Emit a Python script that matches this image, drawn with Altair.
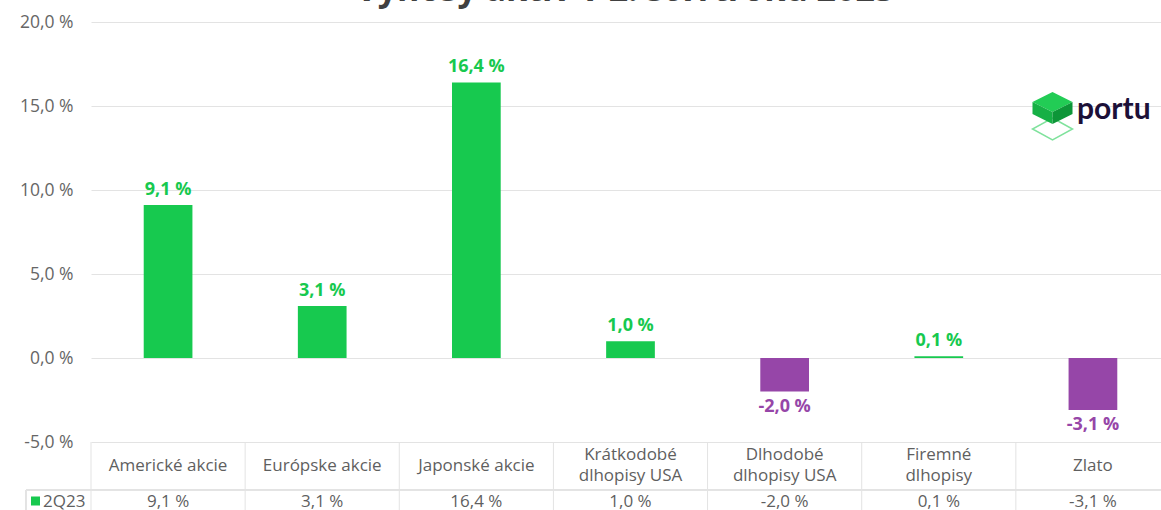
import altair as alt
import pandas as pd

# ---- data ----
categories = ["Americké akcie", "Európske akcie", "Japonské akcie",
              "Krátkodobé\ndlhopisy USA", "Dlhodobé\ndlhopisy USA",
              "Firemné\ndlhopisy", "Zlato"]
values_2q23 = [9.1, 3.1, 16.4, 1.0, -2.0, 0.1, -3.1]
series_name = "2Q23"
title_text = "Výnosy aktív v 2. štvrťroku 2023"
y_ticks = [-5, 0, 5, 10, 15, 20]

GREEN = "#17c94f"
PURPLE = "#9646a8"
GRID = "#e3e3e3"
TXT = "#5f5f5f"
FONT = "Open Sans"

df = pd.DataFrame({"cat": categories, "v": values_2q23})
df["key"] = [c.replace("\n", " ") for c in categories]

FMT = "replace(replace(format(datum.{f}, '.1f'), '.', ','), '\u2212', '-') + ' %'"

W, H = 1070, 420
xscale = alt.Scale(domain=df["key"].tolist(), range=[0, 1079], paddingInner=0, paddingOuter=0)
yscale = alt.Scale(domain=[-5, 20], nice=False, zero=False)


def XE(bp):
    return alt.X("key:N", scale=xscale, axis=None, sort=None, bandPosition=bp)


base = alt.Chart(df).transform_calculate(lab=FMT.format(f="v"))

bars = base.mark_bar(width={"band": 0.316}).encode(
    x=alt.X("key:N", scale=xscale, axis=None, sort=None),
    y=alt.Y("v:Q", scale=yscale,
            axis=alt.Axis(values=y_ticks, grid=True, gridColor=GRID, domain=False, ticks=False,
                          labelPadding=18, labelFontSize=17.5, labelColor="#666666", labelFont=FONT,
                          labelExpr=FMT.format(f="value"),
                          title=None)),
    y2=alt.datum(0),
    color=alt.condition(alt.datum.v >= 0, alt.value(GREEN), alt.value(PURPLE)),
)

pos_lab = base.transform_filter(alt.datum.v >= 0).mark_text(
    baseline="bottom", dy=-6, fontSize=18, fontWeight="bold", font=FONT, color=GREEN
).encode(x=XE(0.5), y=alt.Y("v:Q", scale=yscale), text="lab:N")

neg_lab = base.transform_filter(alt.datum.v < 0).mark_text(
    baseline="top", dy=6, fontSize=18, fontWeight="bold", font=FONT, color=PURPLE
).encode(x=XE(0.5), y=alt.Y("v:Q", scale=yscale), text="lab:N")

# ---- table below ----
vlines = base.mark_rule(color=GRID, strokeWidth=1).encode(
    x=XE(0), y=alt.value(H), y2=alt.value(500))

hline = base.mark_rule(color=GRID, strokeWidth=1).encode(
    x=alt.value(-65), x2=alt.value(1100), y=alt.value(468))

left_border = base.mark_rule(color=GRID, strokeWidth=1).encode(
    x=alt.value(-65), y=alt.value(468), y2=alt.value(500))

cat_one = base.transform_filter("indexof(datum.cat, '\\n') < 0").mark_text(
    fontSize=17, font=FONT, color=TXT, baseline="middle").encode(
    x=XE(0.5), y=alt.value(443.5), text="cat:N")

cat_two = base.transform_filter("indexof(datum.cat, '\\n') >= 0").mark_text(
    lineBreak="\n", lineHeight=21, fontSize=17, font=FONT, color=TXT,
    baseline="middle").encode(
    x=XE(0.5), y=alt.value(433), text="cat:N")

val_text = base.mark_text(fontSize=17, font=FONT, color=TXT, baseline="middle").encode(
    x=XE(0.5), y=alt.value(479.5), text="lab:N")

leg_df = pd.DataFrame({"s": [series_name]})
leg_sq = alt.Chart(leg_df).mark_square(size=81, color=GREEN, opacity=1).encode(
    x=alt.value(-55.5), y=alt.value(479))
leg_tx = alt.Chart(leg_df).mark_text(align="left", baseline="middle", fontSize=17,
                                     font=FONT, color=TXT).encode(
    x=alt.value(-48), y=alt.value(479.5), text="s:N")

# ---- title (cut off at top) ----
title_df = pd.DataFrame({"t": [title_text]})
title = alt.Chart(title_df).mark_text(align="center", baseline="alphabetic", fontSize=34,
                                      fontWeight="bold", font=FONT, color="#404040").encode(
    x=alt.value(534), y=alt.value(-21), text="t:N")

# ---- logo ----
logo_df = pd.DataFrame({"s": ["portu"]})
outline = alt.Chart(logo_df).mark_point(
    shape="M0,-0.55L1,0L0,0.55L-1,0Z", size=1600, filled=False,
    stroke="#7fe29c", strokeWidth=1.5, opacity=1).encode(x=alt.value(961.5), y=alt.value(107))
top_face = alt.Chart(logo_df).mark_point(
    shape="M0,-1L1,-0.5L0,0L-1,-0.5Z", size=1600, filled=True,
    fill="#22cc55", strokeWidth=0, opacity=1).encode(x=alt.value(961.5), y=alt.value(90))
left_face = alt.Chart(logo_df).mark_point(
    shape="M-1,-0.5L0,0L0,0.6L-1,0.1Z", size=1600, filled=True,
    fill="#16b045", strokeWidth=0, opacity=1).encode(x=alt.value(961.5), y=alt.value(90))
right_face = alt.Chart(logo_df).mark_point(
    shape="M1,-0.5L0,0L0,0.6L1,0.1Z", size=1600, filled=True,
    fill="#0d9638", strokeWidth=0, opacity=1).encode(x=alt.value(961.5), y=alt.value(90))
logo_text = alt.Chart(logo_df).mark_text(align="left", baseline="alphabetic", fontSize=30,
                                         fontWeight="bold", font="Lato", color="#1c1038").encode(
    x=alt.value(986), y=alt.value(97), text="s:N")

chart = alt.layer(
    bars, pos_lab, neg_lab, vlines, hline, left_border, cat_one, cat_two, val_text,
    leg_sq, leg_tx, title, outline, top_face, left_face, right_face, logo_text
).properties(
    width=W, height=H,
    background="white",
    autosize=alt.AutoSizeParams(type="none"),
    padding={"left": 91, "top": 22, "right": 0, "bottom": 68},
).configure_view(stroke="transparent", strokeWidth=0)

chart.save("out.html", embed_options={"renderer": "svg", "actions": False})
